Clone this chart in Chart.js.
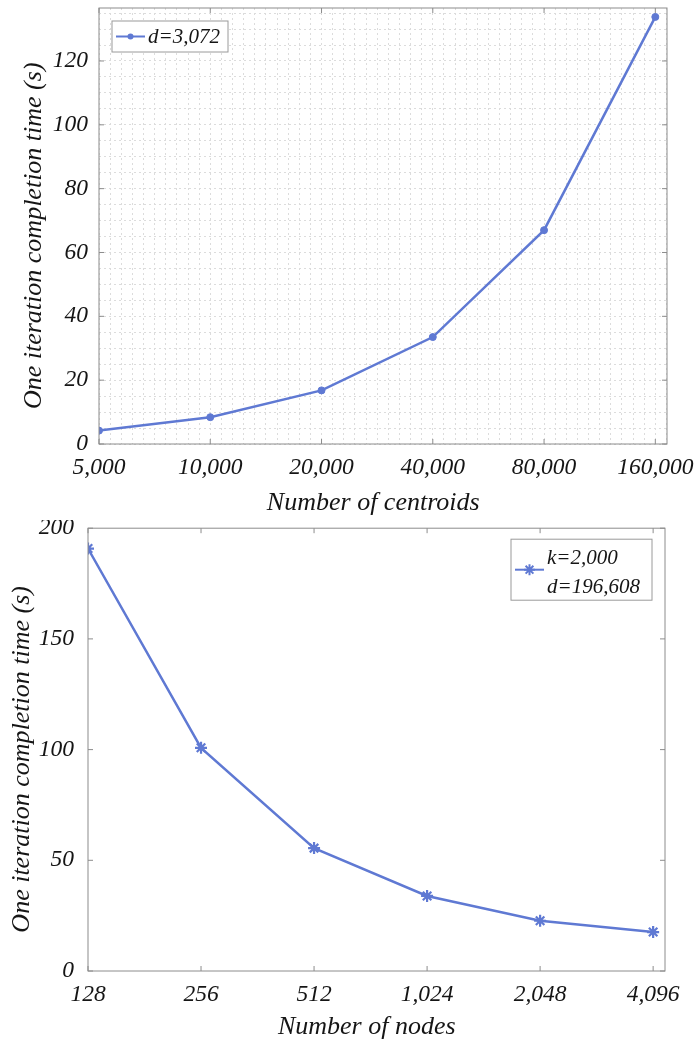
<!DOCTYPE html>
<html>
<head>
<meta charset="utf-8">
<script src="https://cdn.jsdelivr.net/npm/chart.js@4.4.0/dist/chart.umd.min.js"></script>
<style>
  body { margin: 0; background: #fff; }
  canvas { display: block; }
</style>
</head>
<body>
<canvas id="chart-centroids" width="695" height="520"></canvas>
<canvas id="chart-nodes" width="695" height="527"></canvas>
<script>
// ── data ──────────────────────────────────────────
const centroidLabels = ['5,000', '10,000', '20,000', '40,000', '80,000', '160,000'];
const centroidTimes  = [4.2, 8.4, 16.8, 33.5, 67, 133.8];

const nodeLabels = ['128', '256', '512', '1,024', '2,048', '4,096'];
const nodeTimes  = [190.8, 100.8, 55.5, 33.9, 22.7, 17.6];

const LINE   = '#5f79d3';
const AXIS   = '#8c8c8c';
const TEXT   = '#151515';
const FAMILY = "'Liberation Serif', 'DejaVu Serif', serif";
const font   = size => ({ family: FAMILY, style: 'italic', size });
// MATLAB sets its axis labels a little off-centre; trailing spaces mimic that
const nudge  = '   ';

// ── box, inward ticks and legend (MATLAB look) ─────
const frame = {
  id: 'frame',
  afterDatasetsDraw(chart, args, opts) {
    const { ctx, chartArea: a, scales: { x, y } } = chart;
    ctx.save();
    ctx.strokeStyle = AXIS;
    ctx.lineWidth = 1;
    ctx.strokeRect(a.left, a.top, a.width, a.height);

    ctx.beginPath();
    for (let i = 0; i < opts.xCount; i++) {
      const px = x.getPixelForValue(i);
      ctx.moveTo(px, a.bottom); ctx.lineTo(px, a.bottom - 5);
      ctx.moveTo(px, a.top);    ctx.lineTo(px, a.top + 5);
    }
    for (let v = 0; v <= y.max + 1e-6; v += opts.yMajor) {
      const py = y.getPixelForValue(v);
      ctx.moveTo(a.left, py);  ctx.lineTo(a.left + 5, py);
      ctx.moveTo(a.right, py); ctx.lineTo(a.right - 5, py);
    }
    ctx.stroke();

    // legend
    const L  = opts.legend;
    const bx = L.fromRight ? a.right - L.dx - L.w : a.left + L.dx;
    const by = a.top + L.dy;
    ctx.fillStyle = '#fff';
    ctx.fillRect(bx, by, L.w, L.h);
    ctx.strokeStyle = '#9a9a9a';
    ctx.strokeRect(bx, by, L.w, L.h);

    const ly = by + L.h / 2;
    ctx.strokeStyle = LINE;
    ctx.fillStyle = LINE;
    ctx.lineWidth = 2;
    ctx.beginPath();
    ctx.moveTo(bx + 4, ly); ctx.lineTo(bx + 33, ly);
    ctx.stroke();
    const mx = bx + 18.5;
    if (L.marker === 'circle') {
      ctx.beginPath();
      ctx.arc(mx, ly, 3, 0, Math.PI * 2);
      ctx.fill();
    } else {
      const r = 5.5;
      ctx.beginPath();
      ctx.moveTo(mx - r, ly); ctx.lineTo(mx + r, ly);
      ctx.moveTo(mx, ly - r); ctx.lineTo(mx, ly + r);
      const d = r * 0.7071;
      ctx.moveTo(mx - d, ly - d); ctx.lineTo(mx + d, ly + d);
      ctx.moveTo(mx - d, ly + d); ctx.lineTo(mx + d, ly - d);
      ctx.stroke();
    }

    ctx.fillStyle = TEXT;
    ctx.font = `italic ${L.size}px ${FAMILY}`;
    ctx.textBaseline = 'middle';
    ctx.textAlign = 'left';
    L.lines.forEach((t, i) => ctx.fillText(t, bx + 36, by + L.lineY[i]));
    ctx.restore();
  },
};

// ── chart helper ──────────────────────────────────
function makeChart(id, cfg) {
  const isMajor = v => Math.abs(v - Math.round(v)) < 1e-6;
  return new Chart(document.getElementById(id), {
    type: 'line',
    data: {
      datasets: [{
        data: cfg.values.map((v, i) => ({ x: i, y: v })),
        borderColor: LINE,
        backgroundColor: LINE,
        borderWidth: 2.5,
        pointStyle: cfg.pointStyle,
        pointRadius: cfg.pointRadius,
        pointBorderWidth: cfg.pointStyle === 'star' ? 2.2 : 1,
        tension: 0,
      }],
    },
    options: {
      responsive: false,
      animation: false,
      layout: { padding: { top: 8, right: cfg.padRight, left: 0, bottom: 0 } },
      plugins: {
        legend: { display: false },
        tooltip: { enabled: false },
        frame: {
          xCount: cfg.labels.length,
          yMajor: cfg.yMajor,
          legend: cfg.legend,
        },
      },
      scales: {
        x: {
          type: 'linear',
          min: 0,
          max: cfg.labels.length - 1 + 0.105,
          afterBuildTicks: s => {
            const step = cfg.grid ? 0.1 : 1;
            const t = [];
            for (let v = 0; v <= s.max + 1e-6; v += step) t.push({ value: Math.round(v * 10) / 10 });
            s.ticks = t;
          },
          afterFit: s => { s.height = 76; },
          grid: { display: cfg.grid, color: '#dcdcdc', drawTicks: false, lineWidth: 1 },
          border: { display: false, dash: [2, 3] },
          ticks: {
            autoSkip: false,
            maxRotation: 0,
            padding: 10,
            color: TEXT,
            font: font(23.5),
            callback: v => (isMajor(v) && cfg.labels[Math.round(v)] !== undefined) ? cfg.labels[Math.round(v)] : '',
          },
          title: {
            display: true,
            text: cfg.xTitle + nudge,
            color: TEXT,
            font: font(26),
            padding: { top: 0, bottom: cfg.xTitlePad },
          },
        },
        y: {
          min: 0,
          max: cfg.yMax,
          afterBuildTicks: s => {
            const step = cfg.grid ? 5 : cfg.yMajor;
            const t = [];
            for (let v = 0; v <= s.max + 1e-6; v += step) t.push({ value: v });
            s.ticks = t;
          },
          afterFit: s => { s.width = cfg.yWidth; s.paddingTop = 0; s.paddingBottom = 0; },
          grid: { display: cfg.grid, color: '#dcdcdc', drawTicks: false, lineWidth: 1 },
          border: { display: false, dash: [2, 3] },
          ticks: {
            autoSkip: false,
            padding: cfg.yTickPad,
            color: TEXT,
            font: font(23.5),
            callback: v => (v % cfg.yMajor === 0) ? String(v) : '',
          },
          title: {
            display: true,
            text: 'One iteration completion time (s)' + nudge,
            color: TEXT,
            font: font(26),
            padding: { top: cfg.yTitlePad, bottom: 0 },
          },
        },
      },
    },
    plugins: [frame],
  });
}

makeChart('chart-centroids', {
  labels: centroidLabels,
  values: centroidTimes,
  pointStyle: 'circle',
  pointRadius: 3.5,
  grid: true,
  yMax: 136.6,
  yMajor: 20,
  yWidth: 99,
  padRight: 28,
  yTickPad: 11,
  yTitlePad: 18.5,
  xTitle: 'Number of centroids',
  xTitlePad: 1.5,
  legend: { fromRight: false, dx: 13, dy: 13, w: 116, h: 31, size: 21,
            marker: 'circle', lines: ['d=3,072'], lineY: [16] },
});

makeChart('chart-nodes', {
  labels: nodeLabels,
  values: nodeTimes,
  pointStyle: 'star',
  pointRadius: 6,
  grid: false,
  yMax: 200,
  yMajor: 50,
  yWidth: 88,
  padRight: 30,
  yTickPad: 14,
  yTitlePad: 6.5,
  xTitle: 'Number of nodes',
  xTitlePad: 4.5,
  legend: { fromRight: true, dx: 13, dy: 11, w: 141, h: 61, size: 21,
            marker: 'star', lines: ['k=2,000', 'd=196,608'], lineY: [19, 48] },
});
</script>
</body>
</html>
